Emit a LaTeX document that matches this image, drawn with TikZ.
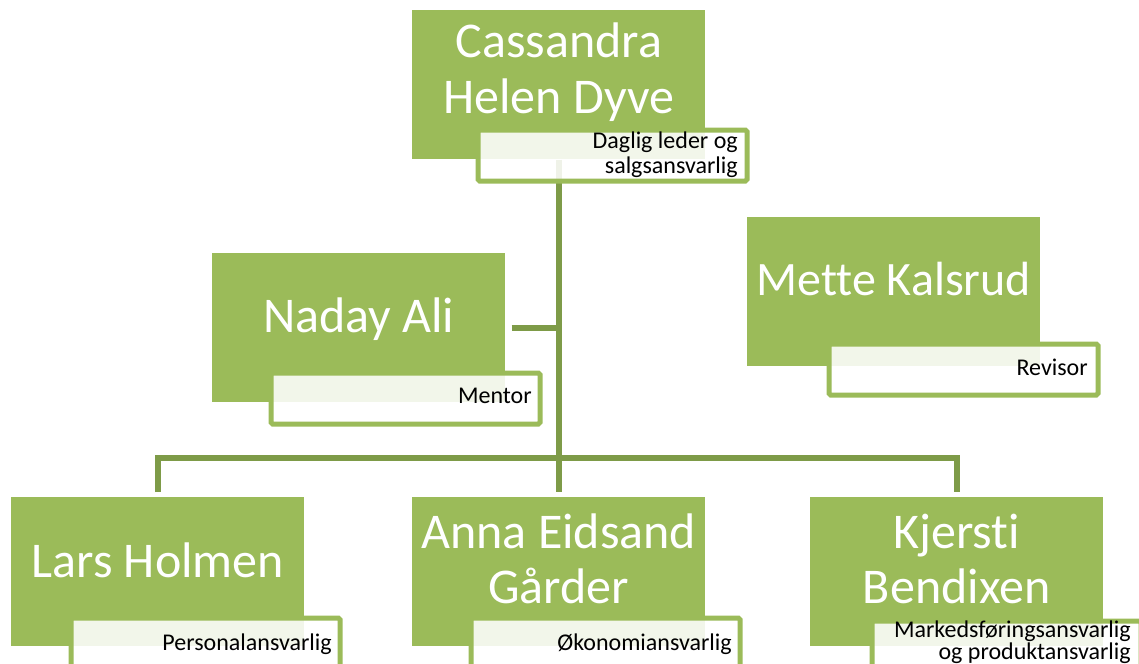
\documentclass[tikz,border=0pt]{standalone}
\usepackage{fontspec}
\setmainfont{Carlito}[Ligatures=NoCommon]
\usetikzlibrary{backgrounds}
\definecolor{gfill}{RGB}{155,187,89}
\definecolor{gline}{RGB}{126,155,72}
\tikzset{
  gbox/.style={draw=none, fill=gfill, inner sep=0pt, anchor=north west,
    minimum width=293*0.75pt, minimum height=149*0.75pt},
  wbox/.style={draw=gfill, fill=white, fill opacity=0.88, line width=3.75pt,
    rounded corners=1.2pt, inner sep=0pt, anchor=north west,
    minimum width=269*0.75pt, minimum height=51*0.75pt},
  bigtxt/.style={text=white, inner sep=0pt, anchor=base,
    font=\fontsize{37.5}{45}\selectfont},
  smalltxt/.style={text=black, inner sep=0pt, anchor=base east,
    font=\fontsize{18}{22}\selectfont},
  conn/.style={draw=gline, line width=4.2pt, line join=miter}
}
\begin{document}
\begin{tikzpicture}[x=0.75pt, y=-0.75pt]
\useasboundingbox (0,0) rectangle (1139,664);
% green boxes
\node[gbox] (cass) at (412,10) {};
\node[gbox] (naday) at (212,253) {};
\node[gbox] (mette) at (747,217) {};
\node[gbox] (lars) at (11,497) {};
\node[gbox] (anna) at (412,497) {};
\node[gbox] (kj) at (810,497) {};
% connectors
\coordinate (bus) at (558.5,458);
\begin{scope}[on background layer]
\draw[conn] (cass.south) -- ([yshift=3.75pt]anna.north);
\draw[conn] ([yshift=3.75pt]lars.north) |- (bus) -| ([yshift=3.75pt]kj.north);
\draw[conn] ([xshift=4.5pt]naday.east) -- (naday.east -| cass.south);
\end{scope}
% white role boxes
\node[wbox] (cassr) at (475.5,127.5) {};
\node[wbox] (nadayr) at (268.5,370.5) {};
\node[wbox] (metter) at (826.5,341.5) {};
\node[wbox] (larsr) at (68.5,615.5) {};
\node[wbox] (annar) at (468.5,615.5) {};
\node[wbox] (kjr) at (869.5,618.5) {};
% names
\node[bigtxt] (cassa) at (cass.north |- 0,57) {Cassandra};
\node[bigtxt] (cassb) at (cass.north |- 0,113) {Helen Dyve};
\node[bigtxt] (nadayt) at (naday.north |- 0,332) {Naday Ali};
\node[bigtxt, font=\fontsize{36}{43}\selectfont] (mettet) at (mette.north |- 0,295) {Mette Kalsrud};
\node[bigtxt] (larst) at (lars.north |- 0,577) {Lars Holmen};
\node[bigtxt] (annaa) at (anna.north |- 0,548) {Anna Eidsand};
\node[bigtxt] (annab) at (anna.north |- 0,603) {Gårder};
\node[bigtxt] (kja) at (kj.north |- 0,548) {Kjersti};
\node[bigtxt] (kjb) at (kj.north |- 0,603) {Bendixen};
% roles
\node[smalltxt] (cassra) at (738,148) {Daglig leder og};
\node[smalltxt] (cassrb) at (738,173) {salgsansvarlig};
\node[smalltxt] (nadayrt) at (532,403) {Mentor};
\node[smalltxt] (mettert) at (1088,375) {Revisor};
\node[smalltxt] (larsrt) at (332,650) {Personalansvarlig};
\node[smalltxt] (annart) at (732,650) {Økonomiansvarlig};
\node[smalltxt] (kjra) at (1131,637) {Markedsføringsansvarlig};
\node[smalltxt] (kjrb) at (1131,659) {og produktansvarlig};
\end{tikzpicture}
\end{document}
